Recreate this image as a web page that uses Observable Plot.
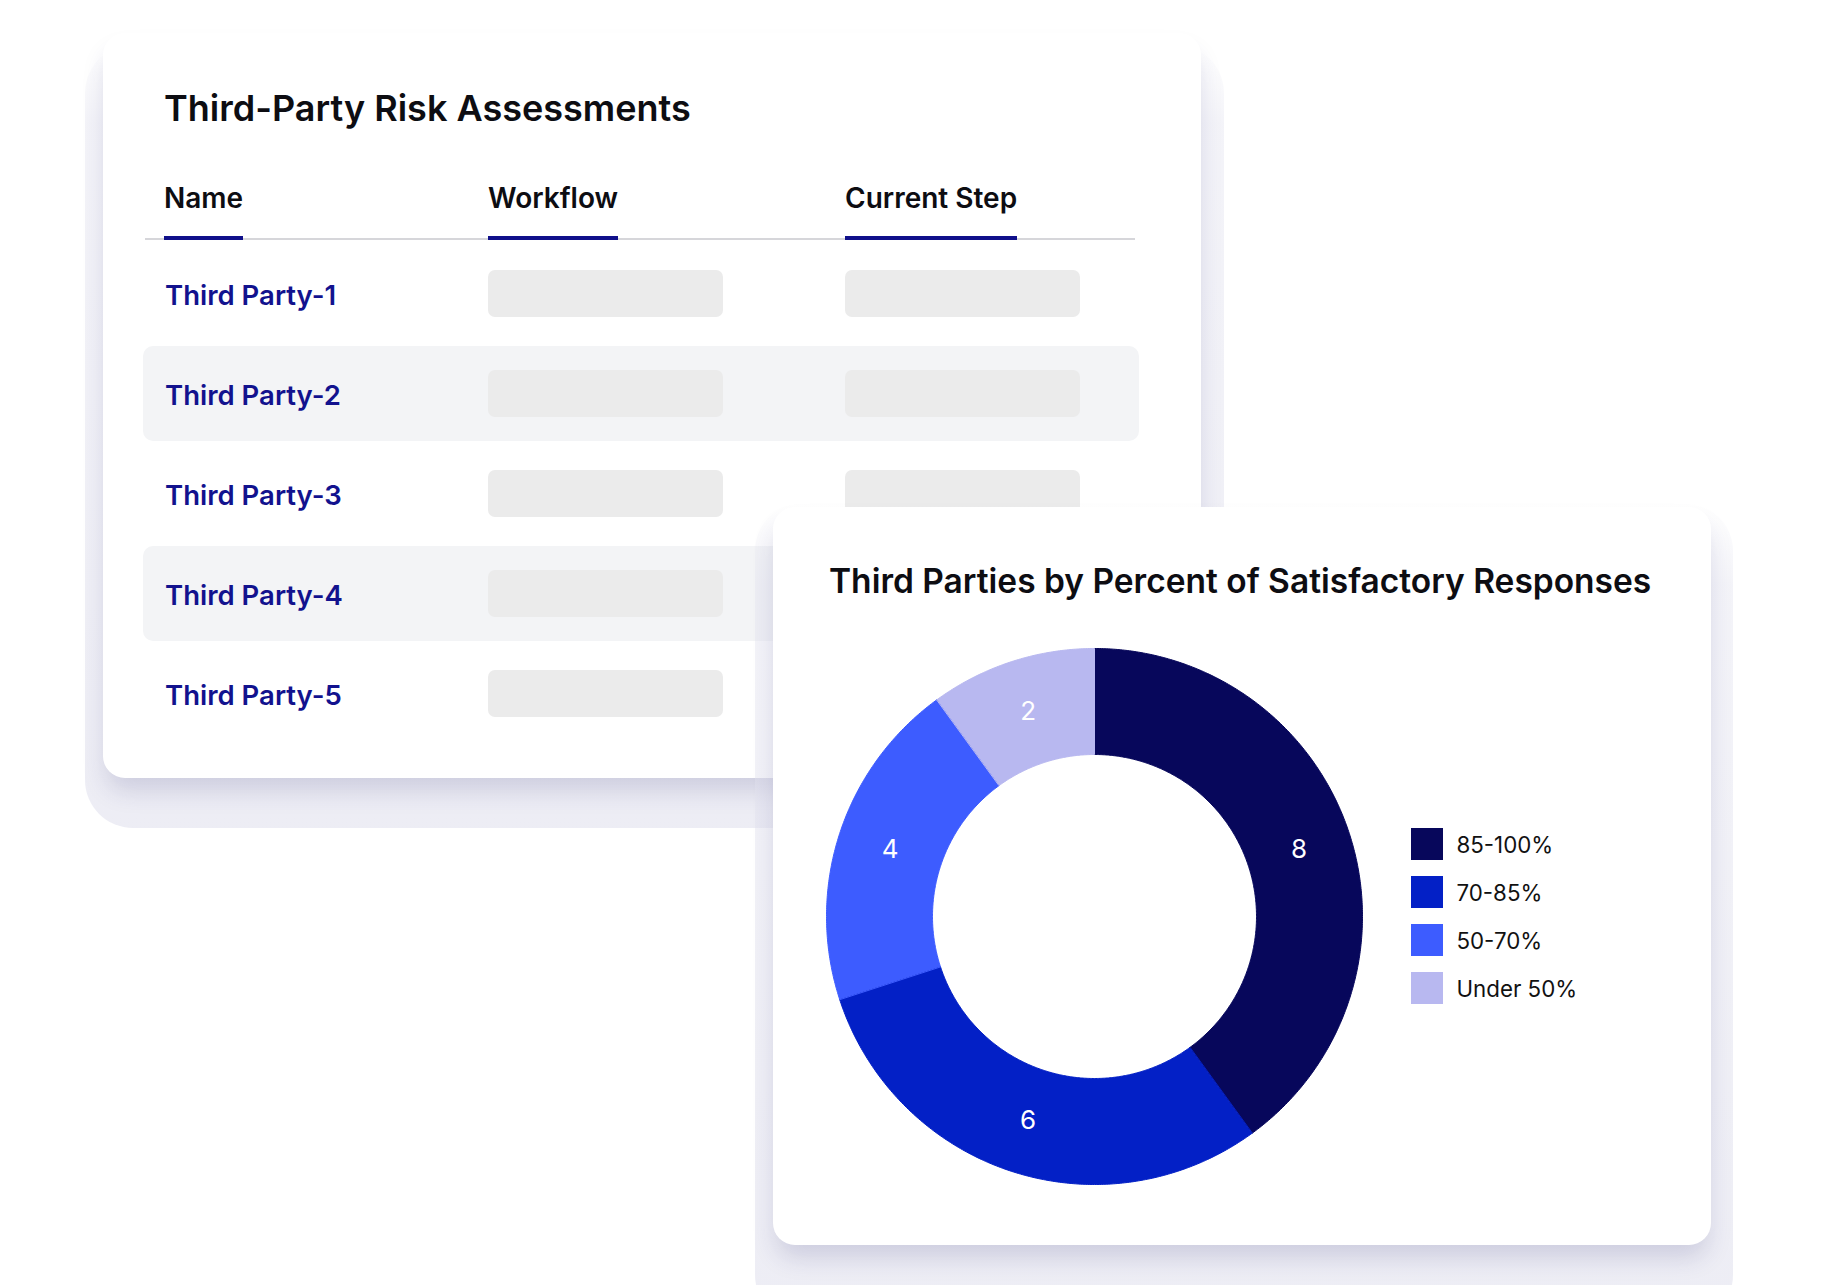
<!DOCTYPE html>
<html>
<head>
<meta charset="utf-8">
<script src="https://cdn.jsdelivr.net/npm/d3@7"></script>
<script src="https://cdn.jsdelivr.net/npm/@observablehq/plot@0.6"></script>
<style>
  html, body { margin: 0; padding: 0; background: #ffffff; }
  body { width: 1822px; height: 1285px; position: relative; overflow: hidden; font-family: Inter, "Noto Sans", sans-serif; }
  .abs { position: absolute; }
  .halo { position: absolute; border-radius: 48px;
    background: linear-gradient(to bottom, rgba(230,230,242,0) 0%, rgba(226,226,239,0.4) 10%, rgba(222,222,236,0.55) 100%); }
  .card { position: absolute; background: #ffffff; border-radius: 22px;
    box-shadow: 0 16px 24px -4px rgba(40,40,110,0.17); }
  .txt { position: absolute; white-space: nowrap; line-height: 1; }
  .lg-swatches { margin: 0 !important; }
  .lg-swatch { padding-bottom: 16px !important; margin: 0 !important; }
  .lg-swatch svg { margin-right: 13.5px !important; }
</style>
</head>
<body>
<script>
// ---------- data ----------
const tableTitle = "Third-Party Risk Assessments";
const columns = ["Name", "Workflow", "Current Step"];
const parties = ["Third Party-1", "Third Party-2", "Third Party-3", "Third Party-4", "Third Party-5"];
const chartTitle = "Third Parties by Percent of Satisfactory Responses";
const categories = ["85-100%", "70-85%", "50-70%", "Under 50%"];
const counts = [8, 6, 4, 2];
const colors = ["#07075b", "#0320c6", "#3d5cff", "#b8b8f0"];

// ---------- layout helpers ----------
function el(cls, style, text) {
  const d = document.createElement("div");
  if (cls) d.className = cls;
  Object.assign(d.style, style);
  if (text != null) d.textContent = text;
  document.body.appendChild(d);
  return d;
}
const px = v => v + "px";

// ---------- table card ----------
el("halo", {left: px(85), top: px(45), width: px(1139), height: px(783)});
el("card", {left: px(103), top: px(33), width: px(1098), height: px(745)});

el("txt", {left: px(164), top: px(90), fontSize: "36px", fontWeight: 600, color: "#0d0d12"}, tableTitle);

// header rule
el("abs", {left: px(145), top: px(238), width: px(990), height: px(2), background: "#d6d6da"});

const colX = [164, 488, 845];
columns.forEach((c, i) => {
  const h = el("txt", {left: px(colX[i]), top: px(184), fontSize: "28px", fontWeight: 600, color: "#0d0d12"}, c);
  const u = document.createElement("div");
  Object.assign(u.style, {position: "absolute", left: "0", top: px(52), width: "100%", height: px(4), background: "#10108a"});
  h.appendChild(u);
});

parties.forEach((p, i) => {
  const cy = 293.5 + i * 100;
  if (i % 2 === 1) {
    el("abs", {left: px(143), top: px(cy - 47.5), width: px(996), height: px(95), background: "#f3f4f6", borderRadius: "10px"});
  }
  el("abs", {left: px(488), top: px(cy - 23.5), width: px(235), height: px(47), background: "#ebebeb", borderRadius: "7px"});
  el("abs", {left: px(845), top: px(cy - 23.5), width: px(235), height: px(47), background: "#ebebeb", borderRadius: "7px"});
  el("txt", {left: px(165), top: px(cy - 12), fontSize: "27.5px", fontWeight: 600, color: "#12128e"}, p);
});

// ---------- chart card ----------
el("halo", {left: px(755), top: px(503), width: px(978), height: px(820)});
el("card", {left: px(773), top: px(507), width: px(938), height: px(738)});

el("txt", {left: px(829), top: px(565), fontSize: "33.5px", fontWeight: 600, color: "#0d0d12"}, chartTitle);

// ---------- donut via Plot ----------
const data = categories.map((c, i) => ({category: c, count: counts[i]}));
const arcs = d3.pie().sort(null).value(d => d.count)(data);
const R_OUT = 268, R_IN = 162;
const pts = [];
for (const a of arcs) {
  const n = Math.max(2, Math.ceil((a.endAngle - a.startAngle) / (Math.PI / 360)));
  for (let k = 0; k <= n; k++) {
    const t = a.startAngle + (a.endAngle - a.startAngle) * k / n;
    pts.push({category: a.data.category, x: R_OUT * Math.sin(t), y: R_OUT * Math.cos(t)});
  }
  for (let k = n; k >= 0; k--) {
    const t = a.startAngle + (a.endAngle - a.startAngle) * k / n;
    pts.push({category: a.data.category, x: R_IN * Math.sin(t), y: R_IN * Math.cos(t)});
  }
}
const labels = arcs.map(a => {
  const m = (a.startAngle + a.endAngle) / 2, r = (R_OUT + R_IN) / 2;
  return {x: r * Math.sin(m), y: r * Math.cos(m), count: a.data.count};
});

const chart = Plot.plot({
  width: 560, height: 560, margin: 0,
  x: {domain: [-280, 280], axis: null},
  y: {domain: [-280, 280], axis: null},
  color: {domain: categories, range: colors},
  style: {background: "transparent", fontFamily: "Inter, sans-serif", overflow: "visible"},
  marks: [
    Plot.line(pts, {x: "x", y: "y", z: "category", fill: "category", stroke: "category", strokeWidth: 1, curve: "linear-closed"}),
    Plot.text(labels, {x: "x", y: "y", text: d => String(d.count), fill: "white", fontSize: 26})
  ]
});
const holder = el("abs", {left: px(1094 - 280), top: px(916 - 280), width: px(560), height: px(560)});
holder.appendChild(chart);

const legend = Plot.legend({
  color: {domain: categories, range: colors},
  columns: 1, swatchSize: 32, className: "lg",
  style: {fontSize: "22.3px", fontFamily: "Inter, sans-serif", color: "#111111"}
});
const lh = el("abs", {left: px(1411), top: px(828)});
lh.appendChild(legend);
</script>
</body>
</html>
